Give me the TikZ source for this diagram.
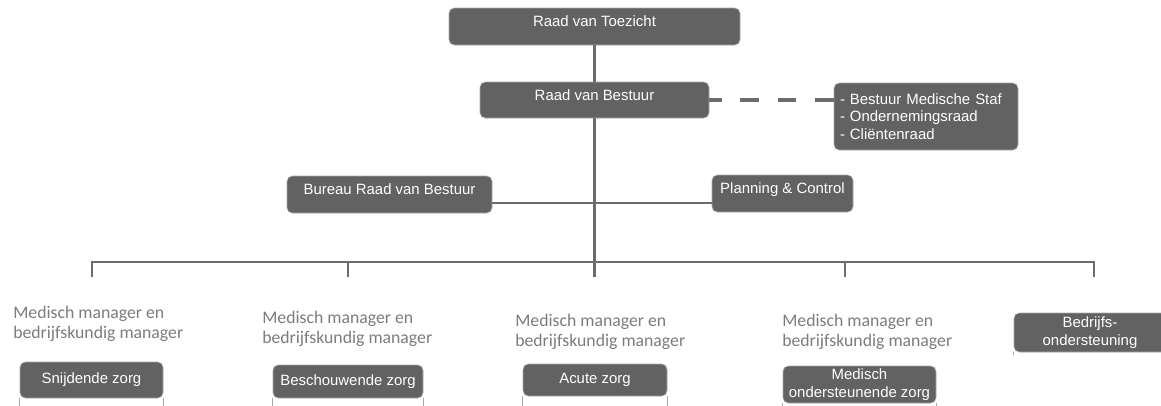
\documentclass[tikz,border=0pt]{standalone}
\usepackage{fontspec}
\setmainfont{Liberation Sans}
\newfontfamily\mgrfont{Carlito}
\usetikzlibrary{positioning}
\definecolor{boxgray}{HTML}{626262}
\definecolor{tiegray}{HTML}{6C6C6C}
\definecolor{mgrgray}{HTML}{7C7C7C}

\begin{document}
\begin{tikzpicture}[x=0.75pt,y=-0.75pt,
    unitbox/.style={draw=gray!70,line width=0.4pt,fill=boxgray,rounded corners=4pt,
      text=white,inner sep=0pt,align=center,font=\fontsize{11.2}{13.1}\selectfont},
    headbox/.style={unitbox,text height=8pt,text depth=8pt},
    mgr/.style={anchor=west,inner sep=0pt,align=left,text=mgrgray,
      font=\mgrfont\fontsize{13.3}{15}\selectfont},
    tie/.style={draw=tiegray,line width=2.2pt}]
  \useasboundingbox (0,0) rectangle (1161,405);
  % top
  \node[headbox,minimum width=218.25pt,minimum height=27.75pt] (rvt) at (594.5,26.5) {Raad van Toezicht};
  \node[headbox,minimum width=171.75pt,minimum height=27pt] (rvb) at (594.5,100) {Raad van Bestuur};
  \node[unitbox,minimum width=138pt,minimum height=50.25pt,text width=129pt,align=left] (raden) at (926,116.5)
    {- Bestuur Medische Staf\\- Ondernemingsraad\\- Cli\"entenraad};
  \node[headbox,minimum width=153.75pt,minimum height=27.75pt] (bureau) at (389.5,194.5) {Bureau Raad van Bestuur};
  \node[headbox,minimum width=105.75pt,minimum height=27.75pt] (pc) at (782.5,193.5) {Planning \& Control};
  % bottom
  \node[unitbox,minimum width=107.25pt,minimum height=27pt] (snij) at (91.5,380) {Snijdende zorg};
  \node[unitbox,minimum width=112.5pt,minimum height=24.75pt] (besch) at (348,381.5) {Beschouwende zorg};
  \node[unitbox,minimum width=108pt,minimum height=24pt] (acute) at (595,380) {Acute zorg};
  \node[unitbox,minimum width=114.75pt,minimum height=27.75pt] (medond) at (859.5,384.5) {Medisch\\ondersteunende zorg};
  \node[unitbox,minimum width=114pt,minimum height=29.25pt] (bedr) at (1090,332.5) {Bedrijfs-\\ondersteuning};
  \foreach \b in {snij,besch,acute,medond}
    \draw[gray!70,line width=0.6pt] (\b.south west) -- ++(0,12) (\b.south east) -- ++(0,12);
  \draw[gray!70,line width=0.6pt] (bedr.south west) -- ++(0,3);
  % managers
  \node[mgr] (mgr1) at (13,324) {Medisch manager en\\bedrijfskundig manager};
  \node[mgr] (mgr2) at (262,328.5) {Medisch manager en\\bedrijfskundig manager};
  \node[mgr] (mgr3) at (515,332) {Medisch manager en\\bedrijfskundig manager};
  \node[mgr] (mgr4) at (782,332) {Medisch manager en\\bedrijfskundig manager};
  % lines
  \coordinate (bus) at (594.5,262);
  \coordinate (staf) at (594.5,203);
  \coordinate (d1) at (92,277);
  \coordinate (d2) at (348,277);
  \coordinate (d3) at (594.5,277);
  \coordinate (d4) at (845,277);
  \coordinate (d5) at (1094,277);
  \draw[tie] (rvt) -- (rvb);
  \draw[tie] (rvb) -- (d3);
  \draw[tie,line width=3.2pt,dash pattern=on 14pt off 14pt] (rvb.east -| raden.west) -- (rvb.east);
  \draw[tie] (staf -| bureau.east) -- (staf -| pc.west);
  \draw[tie] (d1) -- (d1 |- bus) -- (d5 |- bus) -- (d5);
  \draw[tie] (d2 |- bus) -- (d2);
  \draw[tie] (d4 |- bus) -- (d4);
\end{tikzpicture}
\end{document}
